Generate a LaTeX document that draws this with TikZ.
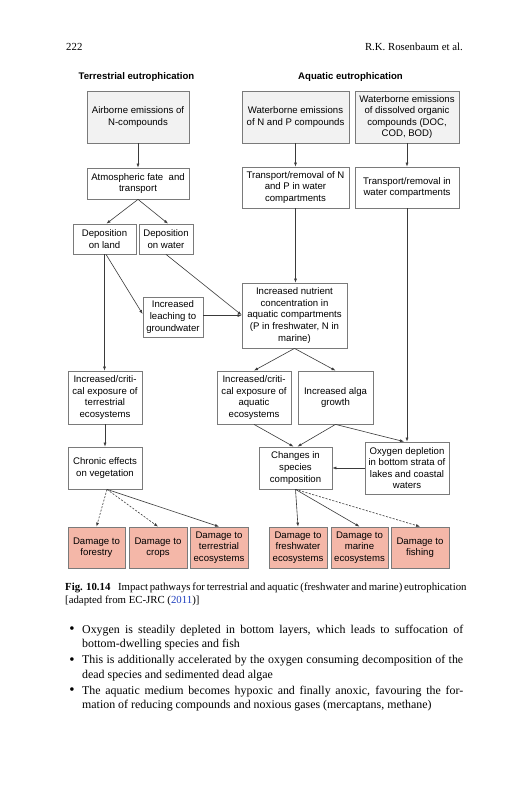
\documentclass[tikz,border=0pt]{standalone}
\usepackage{fontspec}
\setmainfont{Liberation Serif}
\newfontfamily\arialf{Liberation Sans}
\usetikzlibrary{arrows.meta,calc}
\definecolor{boxgray}{HTML}{F2F2F2}
\definecolor{salmon}{HTML}{F4B7A8}
\definecolor{edgegray}{HTML}{7A7A7A}
\definecolor{linkc}{HTML}{3A3A3A}
\definecolor{citeblue}{HTML}{1F3FBF}
\newcommand{\bigbul}{\raisebox{-0.8pt}{\fontsize{15}{15}\selectfont\textbullet}}
\begin{document}
\begin{tikzpicture}[x=1pt,y=-1pt,
  box/.style={draw=edgegray, line width=0.8pt, fill=white, inner sep=0pt, align=center,
    font=\arialf\fontsize{9.6}{11.6}\selectfont},
  src/.style={box, fill=boxgray},
  dmg/.style={box, fill=salmon},
  link/.style={draw=linkc, line width=0.6pt, -{Latex[length=4pt,width=3pt]}},
  dlink/.style={link, dash pattern=on 2pt off 1.5pt},
  hdr/.style={font=\arialf\bfseries\fontsize{9.6}{11.6}\selectfont, anchor=base, inner sep=0pt},
  bodytext/.style={font=\fontsize{11.9}{14.4}\selectfont, anchor=base west, inner sep=0pt},
  bul/.style={font=\fontsize{11.9}{14.4}\selectfont, anchor=base, inner sep=0pt},
  captext/.style={font=\fontsize{10.8}{13}\selectfont, anchor=base west, inner sep=0pt},
]
\useasboundingbox (0,0) rectangle (527,800);
\fill[white] (0,0) rectangle (527,800);

% running head
\node[captext] (pg) at (66,51) {222};
\node[captext, anchor=base east] (rh) at (463,51) {R.K. Rosenbaum et al.};

% column headers
\node[hdr] (hT) at (136.5,79) {Terrestrial eutrophication};
\node[hdr] (hA) at (350.5,79) {Aquatic eutrophication};

% boxes
\node[src, minimum width=102pt, minimum height=52pt] (air) at (138,117) {Airborne emissions of\\N-compounds};
\node[box, minimum width=102pt, minimum height=31pt] (atm) at (138,183.5) {Atmospheric fate\ \ and\\transport};
\node[box, minimum width=63pt, minimum height=30pt] (depL) at (104.5,239) {Deposition\\on land};
\node[box, minimum width=54pt, minimum height=30pt] (depW) at (166,239) {Deposition\\on water};
\node[src, minimum width=107pt, minimum height=52pt] (wNP) at (295.5,117) {Waterborne emissions\\of N and P compounds};
\node[src, minimum width=104pt, minimum height=52pt] (wDOC) at (407,117) {Waterborne emissions\\of dissolved organic\\compounds (DOC,\\COD, BOD)};
\node[box, minimum width=107pt, minimum height=41pt] (tNP) at (295.5,187.5) {Transport/removal of N\\and P in water\\compartments};
\node[box, minimum width=104pt, minimum height=41pt] (tDOC) at (407,187.5) {Transport/removal in\\water compartments};
\node[box, minimum width=60pt, minimum height=40pt] (leach) at (173,317) {Increased\\leaching to\\groundwater};
\node[box, minimum width=105pt, minimum height=65pt] (nutr) at (294.5,315.5) {Increased nutrient\\concentration in\\aquatic compartments\\(P in freshwater, N in\\marine)};
\node[box, minimum width=74pt, minimum height=53pt] (expT) at (105,397.5) {Increased/criti-\\cal exposure of\\terrestrial\\ecosystems};
\node[box, minimum width=74pt, minimum height=53pt] (expA) at (254,397.5) {Increased/criti-\\cal exposure of\\aquatic\\ecosystems};
\node[box, minimum width=75pt, minimum height=53pt] (alga) at (335.5,397.5) {Increased alga\\growth};
\node[box, minimum width=74pt, minimum height=42pt] (chron) at (105,468) {Chronic effects\\on vegetation};
\node[box, minimum width=73pt, minimum height=42pt] (chg) at (295.5,468) {Changes in\\species\\composition};
\node[box, minimum width=84pt, minimum height=52pt] (oxy) at (407,468) {Oxygen depletion\\in bottom strata of\\lakes and coastal\\waters};
\node[dmg, minimum width=57pt, minimum height=41pt] (dF) at (96.5,547.5) {Damage to\\forestry};
\node[dmg, minimum width=58pt, minimum height=41pt] (dC) at (158,547.5) {Damage to\\crops};
\node[dmg, minimum width=58pt, minimum height=41pt] (dT) at (219,547.5) {Damage to\\terrestrial\\ecosystems};
\node[dmg, minimum width=58pt, minimum height=41pt] (dFw) at (298,547.5) {Damage to\\freshwater\\ecosystems};
\node[dmg, minimum width=57pt, minimum height=41pt] (dM) at (359.5,547.5) {Damage to\\marine\\ecosystems};
\node[dmg, minimum width=58pt, minimum height=41pt] (dFi) at (420,547.5) {Damage to\\fishing};

% connectors
\draw[link] (air.south) -- (atm.north);
\draw[link] (atm.south) -- ($(depL.north)+(2,0)$);
\draw[link] (atm.south) -- ($(depW.north)+(2,0)$);
\draw[link] (depL.south) -- (depL.south |- expT.north);
\draw[link] ($(depL.south)+(1.5,0)$) -- ($(leach.west)+(0,-3)$);
\draw[link] (depW.south) -- ($(nutr.west)+(0,-0.5)$);
\draw[link] (leach.east |- nutr.west) -- (nutr.west);
\draw[link] (wNP.south) -- (tNP.north);
\draw[link] (wDOC.south) -- (tDOC.north);
\draw[link] (tNP.south) -- (tNP.south |- nutr.north);
\draw[link] (tDOC.south) -- (oxy.north);
\draw[link] (nutr.south) -- (expA.north);
\draw[link] (nutr.south) -- (alga.north);
\draw[link] (expT.south) -- (chron.north);
\draw[link] (expA.south) -- ($(chg.north)+(-2,0)$);
\draw[link] (alga.south) -- ($(chg.north)+(2,0)$);
\draw[link] (alga.south) -- ($(oxy.north)+(-3,0)$);
\draw[link] (oxy.west) -- (chg.east);
\draw[dlink] ($(chron.south)+(2,0)$) -- (dF.north);
\draw[dlink] ($(chron.south)+(2,0)$) -- (dC.north);
\draw[link] ($(chron.south)+(2,0)$) -- (dT.north);
\draw[link] (chg.south) -- (dFw.north);
\draw[link] (chg.south) -- (dM.north);
\draw[dlink] (chg.south) -- (dFi.north);

% caption
\node[captext] (cap1) at (65,590.5) {\hbox to 398pt{\textbf{Fig. 10.14}\hspace{0.7em}Impact pathways for terrestrial and aquatic (freshwater and marine) eutrophication}};
\node[captext] (cap2) at (65,603.5) {[adapted from EC-JRC (\textcolor{citeblue}{2011})]};

% body text
\node[bul] (u1) at (72,633) {\bigbul};
\node[bodytext] (b1) at (82,633) {\hbox to 381pt{Oxygen is steadily depleted in bottom layers, which leads to suffocation of}};
\node[bodytext] (b2) at (82,647.5) {bottom-dwelling species and fish};
\node[bul] (u2) at (72,663.5) {\bigbul};
\node[bodytext] (b3) at (82,663.5) {\hbox to 381pt{This is additionally accelerated by the oxygen consuming decomposition of the}};
\node[bodytext] (b4) at (82,678) {dead species and sedimented dead algae};
\node[bul] (u3) at (72,694) {\bigbul};
\node[bodytext] (b5) at (82,694) {\hbox to 381pt{The aquatic medium becomes hypoxic and finally anoxic, favouring the for-}};
\node[bodytext] (b6) at (82,708.5) {mation of reducing compounds and noxious gases (mercaptans, methane)};
\end{tikzpicture}
\end{document}
